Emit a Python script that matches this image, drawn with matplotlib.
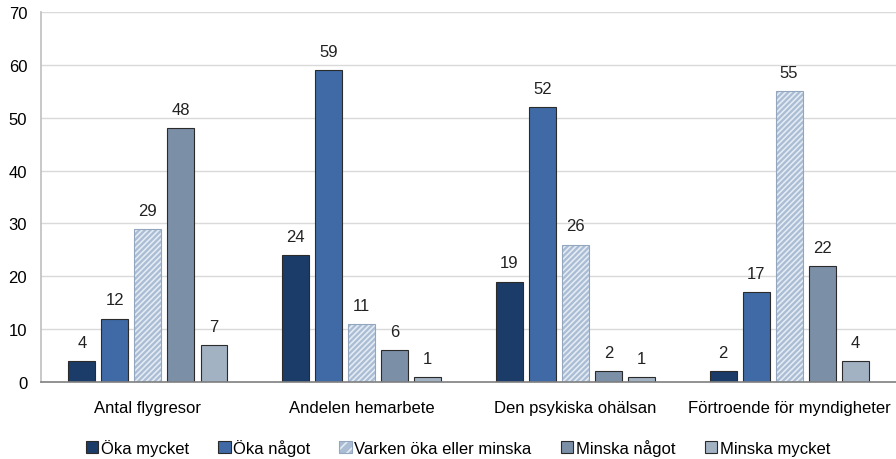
import numpy as np
import matplotlib
matplotlib.use("Agg")
import matplotlib.pyplot as plt
from matplotlib.patches import Patch

plt.rcParams["font.family"] = ["Liberation Sans", "DejaVu Sans"]
plt.rcParams["hatch.linewidth"] = 1.2

categories = ["Antal flygresor", "Andelen hemarbete", "Den psykiska ohälsan",
              "Förtroende för myndigheter"]
series = ["Öka mycket", "Öka något", "Varken öka eller minska",
          "Minska något", "Minska mycket"]
oka_mycket = [4, 24, 19, 2]
oka_nagot = [12, 59, 52, 17]
varken = [29, 11, 26, 55]
minska_nagot = [48, 6, 2, 22]
minska_mycket = [7, 1, 1, 4]
values = [oka_mycket, oka_nagot, varken, minska_nagot, minska_mycket]

colors = ["#1b3c69", "#3f6aa6", "#aabdd5", "#7b8fa7", "#a2b2c3"]
edge = "#2b2b2b"
fs = 12

fig = plt.figure(figsize=(8.96, 4.6), dpi=100)
ax = fig.add_axes([0.0458, 0.1674, 0.9542, 0.8043])

x = np.arange(len(categories))
pitch = 0.1546
width = 0.126
handles = []
for i, (name, vals, c) in enumerate(zip(series, values, colors)):
    pos = x + (i - 2) * pitch
    if i == 2:
        # hatched bar: white stripes on light blue, then an outline on top
        ax.bar(pos, vals, width, color=c, edgecolor="#e4ebf3", hatch="//////",
               linewidth=0, zorder=3)
        ax.bar(pos, vals, width, fill=False, edgecolor="#94a6bd",
               linewidth=0.8, zorder=4)
        h = (Patch(facecolor=c, edgecolor="#e4ebf3", hatch="///", linewidth=0),
             Patch(fill=False, edgecolor="#94a6bd", linewidth=0.8))
    else:
        ax.bar(pos, vals, width, color=c, edgecolor=edge, linewidth=0.8,
               zorder=3)
        h = Patch(facecolor=c, edgecolor=edge, linewidth=0.8)
    handles.append(h)
    for px, v in zip(pos, vals):
        ax.annotate(str(v), (px, v), xytext=(0, 8), textcoords="offset points",
                    ha="center", va="bottom", fontsize=fs, color="#222222")

ax.set_xlim(-0.5, len(categories) - 0.5)
ax.set_ylim(0, 70)
ax.set_yticks(range(0, 71, 10))
ax.set_xticks(x)
ax.set_xticklabels(categories, fontsize=fs)
ax.tick_params(axis="y", length=0, pad=10, labelsize=fs)
ax.tick_params(axis="x", length=0, pad=13)
ax.grid(axis="y", color="#d9d9d9", linewidth=1, zorder=0)
ax.set_axisbelow(True)
for s in ["top", "right"]:
    ax.spines[s].set_visible(False)
ax.spines["left"].set_color("#bfbfbf")
ax.spines["left"].set_linewidth(1.2)
ax.spines["bottom"].set_color("#7f7f7f")
ax.spines["bottom"].set_linewidth(1.2)
ax.spines["bottom"].set_zorder(5)

fig.legend(handles, series, loc="center", bbox_to_anchor=(0.511, 0.025),
           ncol=5, frameon=False, fontsize=fs, handlelength=0.75,
           handleheight=0.75, handletextpad=0.15, columnspacing=1.75)

fig.savefig("out.png", dpi=100)
